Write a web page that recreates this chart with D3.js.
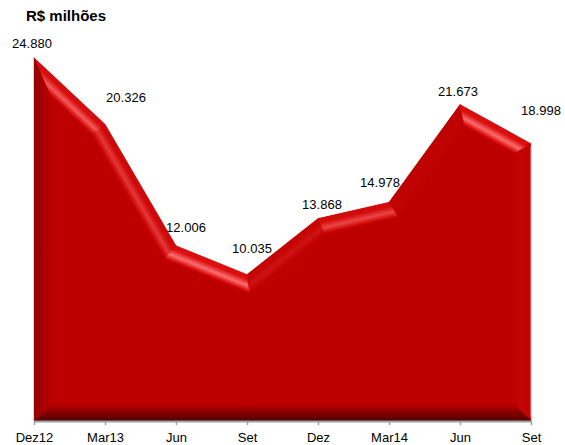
<!DOCTYPE html>
<html>
<head>
<meta charset="utf-8">
<script src="https://cdn.jsdelivr.net/npm/d3@7"></script>
<style>
  html, body { margin: 0; padding: 0; background: #ffffff; }
  svg { display: block; }
  text { font-family: "Liberation Sans", Arial, sans-serif; fill: #000; }
</style>
</head>
<body>
<svg id="chart" width="565" height="445"></svg>
<script>
// Quarterly values (R$ milhões)
const categories = ["Dez12", "Mar13", "Jun", "Set", "Dez", "Mar14", "Jun", "Set"];
const values = [24880, 20326, 12006, 10035, 13868, 14978, 21673, 18998];
const valueLabels = ["24.880", "20.326", "12.006", "10.035", "13.868", "14.978", "21.673", "18.998"];
const yMax = 25000;

const svg = d3.select("#chart");
const W = 565, H = 445;
const margin = { left: 34, right: 34, top: 56, bottom: 24 };

const x = d3.scaleLinear().domain([0, categories.length - 1]).range([margin.left, W - margin.right]);
const y = d3.scaleLinear().domain([0, yMax]).range([H - margin.bottom, margin.top]);

// Title
svg.append("text")
  .attr("x", 26).attr("y", 21)
  .style("font-size", "15px").style("font-weight", "bold")
  .text("R$ milhões");

// ---- Bevelled area ----
const bevel = 17;
const light = (() => { const lx = 0.35, ly = -0.94, m = Math.hypot(lx, ly); return [lx / m, ly / m]; })();
const faceColor = "#bc0000";

// Outline of the area, clockwise on screen: top line, then bottom-right, bottom-left
const topLine = values.map((v, i) => [x(i), y(v)]);
const poly = topLine.concat([[x(values.length - 1), y(0)], [x(0), y(0)]]);
const n = poly.length;

// Inward unit normal of each edge
const normals = poly.map((p, i) => {
  const q = poly[(i + 1) % n];
  const dx = q[0] - p[0], dy = q[1] - p[1], L = Math.hypot(dx, dy);
  return [-dy / L, dx / L];
});

// Intersect two offset edges to get the inset vertex
function intersect(p1, d1, p2, d2) {
  const den = d1[0] * d2[1] - d1[1] * d2[0];
  if (Math.abs(den) < 1e-9) return p2;
  const t = ((p2[0] - p1[0]) * d2[1] - (p2[1] - p1[1]) * d2[0]) / den;
  return [p1[0] + d1[0] * t, p1[1] + d1[1] * t];
}
const inner = poly.map((p, i) => {
  const iPrev = (i - 1 + n) % n;
  const pPrev = poly[iPrev], nPrev = normals[iPrev], nCur = normals[i];
  const a = [pPrev[0] + nPrev[0] * bevel, pPrev[1] + nPrev[1] * bevel];
  const da = [p[0] - pPrev[0], p[1] - pPrev[1]];
  const q = poly[(i + 1) % n];
  const b = [p[0] + nCur[0] * bevel, p[1] + nCur[1] * bevel];
  const db = [q[0] - p[0], q[1] - p[1]];
  return intersect(a, da, b, db);
});

const defs = svg.append("defs");
const g = svg.append("g");

// Base fill
g.append("path")
  .attr("d", d3.line()(poly) + "Z")
  .attr("fill", faceColor);

// One facet per edge, shaded by how much it faces the light
poly.forEach((p, i) => {
  const q = poly[(i + 1) % n];
  const nIn = normals[i];
  const s = -(nIn[0] * light[0] + nIn[1] * light[1]);
  const mid = [(p[0] + q[0]) / 2, (p[1] + q[1]) / 2];
  const gid = "facet" + i;
  const grad = defs.append("linearGradient")
    .attr("id", gid)
    .attr("gradientUnits", "userSpaceOnUse")
    .attr("x1", mid[0]).attr("y1", mid[1])
    .attr("x2", mid[0] + nIn[0] * bevel).attr("y2", mid[1] + nIn[1] * bevel);
  if (s >= 0) {
    const hi = Math.pow(s, 3);
    const edge = d3.interpolateRgb(faceColor, "#dc0e0e")(s * s);
    const shine = d3.interpolateRgb(edge, "#ff7a7a")(hi * 0.9);
    grad.append("stop").attr("offset", 0).attr("stop-color", edge);
    grad.append("stop").attr("offset", 0.25).attr("stop-color", edge);
    grad.append("stop").attr("offset", 0.6).attr("stop-color", shine);
    grad.append("stop").attr("offset", 0.88).attr("stop-color", edge);
    grad.append("stop").attr("offset", 1).attr("stop-color", faceColor);
  } else {
    const edge = d3.interpolateRgb(faceColor, "#4a0000")(-s);
    grad.append("stop").attr("offset", 0).attr("stop-color", edge);
    grad.append("stop").attr("offset", 1).attr("stop-color", faceColor);
  }
  const quad = [p, q, inner[(i + 1) % n], inner[i]];
  g.append("path")
    .attr("d", d3.line()(quad) + "Z")
    .attr("fill", `url(#${gid})`)
    .attr("stroke", `url(#${gid})`)
    .attr("stroke-width", 0.4);
});

// Thin light rim along the right side
g.append("line")
  .attr("x1", x(values.length - 1) - 0.5).attr("x2", x(values.length - 1) - 0.5)
  .attr("y1", y(values[values.length - 1]) + 2).attr("y2", y(0) - 4)
  .attr("stroke", "#f07070").attr("stroke-width", 1).attr("opacity", 0.7);

// ---- Value labels ----
const labelOffsets = [[-2, -10], [21, -22], [10, -14], [5, -21], [4, -10], [-9, -15], [-2, -9], [10, -29]];
svg.append("g").selectAll("text")
  .data(values)
  .join("text")
  .attr("x", (d, i) => x(i) + labelOffsets[i][0])
  .attr("y", (d, i) => y(d) + labelOffsets[i][1])
  .attr("text-anchor", "middle")
  .style("font-size", "13px")
  .text((d, i) => valueLabels[i]);

// ---- X axis ----
const axis = d3.axisBottom(x)
  .tickValues(d3.range(categories.length))
  .tickFormat(i => categories[i])
  .tickSize(4)
  .tickPadding(8)
  .tickSizeOuter(0);
const ax = svg.append("g")
  .attr("transform", `translate(0,${y(0)})`)
  .call(axis);
ax.select(".domain").attr("stroke", "#a0a0a0").attr("stroke-width", 2);
ax.selectAll(".tick line").attr("stroke", "#a0a0a0").attr("stroke-width", 1.5);
ax.selectAll(".tick text")
  .style("font-size", "13px")
  .style("font-family", "'Liberation Sans', Arial, sans-serif")
  .attr("fill", "#000");
</script>
</body>
</html>
